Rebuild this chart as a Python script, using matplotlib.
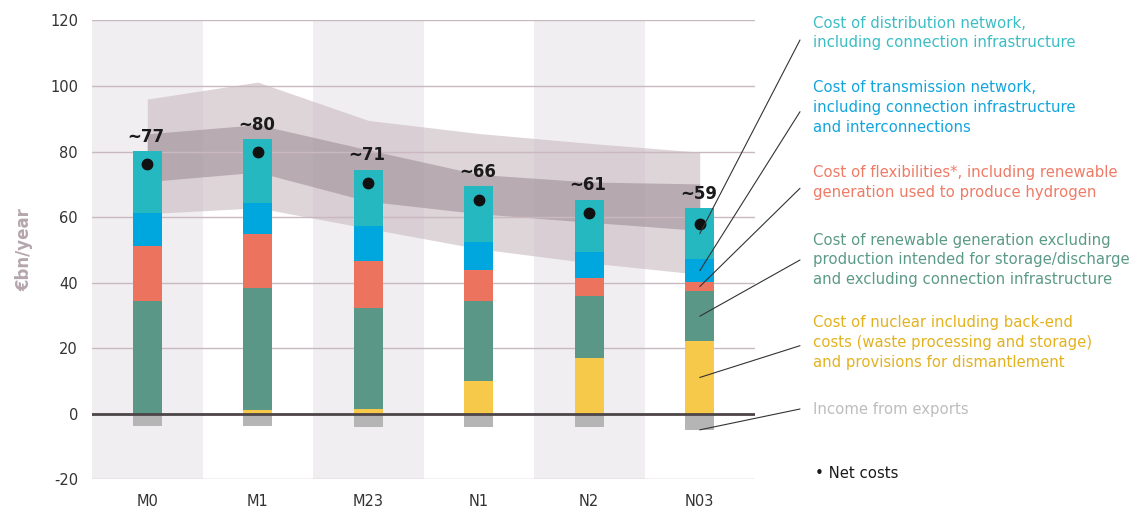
import matplotlib
matplotlib.use("Agg")
import matplotlib.pyplot as plt
import numpy as np

plt.rcParams['axes.unicode_minus'] = False

categories = ['M0', 'M1', 'M23', 'N1', 'N2', 'N03']
nuclear = [0.0, 1.2, 1.3, 9.9, 16.9, 22.0]
renewables = [34.5, 37.1, 31.0, 24.3, 19.0, 15.4]
flexibilities = [16.6, 16.5, 14.4, 9.7, 5.4, 2.7]
transmission = [10.1, 9.5, 10.4, 8.6, 7.9, 7.0]
distribution = [18.8, 19.4, 17.3, 16.9, 16.1, 15.6]
exports = [-3.7, -3.7, -4.2, -4.2, -4.2, -5.0]
net_costs = [76.2, 80.0, 70.5, 65.3, 61.3, 58.0]
net_labels = ['~77', '~80', '~71', '~66', '~61', '~59']
outer_hi = [96.0, 101.2, 89.5, 85.5, 82.5, 79.8]
outer_lo = [61.0, 62.8, 56.5, 50.3, 46.0, 42.5]
inner_hi = [85.4, 88.2, 80.5, 73.0, 70.7, 70.1]
inner_lo = [70.8, 73.7, 64.8, 61.0, 58.4, 55.9]
yticks = [-20, 0, 20, 40, 60, 80, 100, 120]

series_names = [
    "Cost of distribution network,\nincluding connection infrastructure",
    "Cost of transmission network,\nincluding connection infrastructure\nand interconnections",
    "Cost of flexibilities*, including renewable\ngeneration used to produce hydrogen",
    "Cost of renewable generation excluding\nproduction intended for storage/discharge\nand excluding connection infrastructure",
    "Cost of nuclear including back-end\ncosts (waste processing and storage)\nand provisions for dismantlement",
    "Income from exports",
]

c_dist = '#25b8c0'
c_trans = '#00a6de'
c_flex = '#ec745f'
c_ren = '#5a9787'
c_nuc = '#f6c94a'
c_exp = '#b5b5b5'
txt_colors = ['#3bbdc4', '#12a5dd', '#ee7b66', '#5c9a88', '#e3b21f', '#bdbdbd']

fig = plt.figure(figsize=(11.37, 5.11), dpi=100)
ax = fig.add_axes([92/1137, 32/511, (755-92)/1137, (479-20.5)/511])

x = np.arange(len(categories))
ax.set_xlim(-0.5, len(categories) - 0.5)
ax.set_ylim(-20, 120)

# alternating column shading
for i in x:
    if i % 2 == 0:
        ax.axvspan(i - 0.5, i + 0.5, color='#f0eef0', zorder=0, lw=0)

# ranges
ax.fill_between(x, outer_lo, outer_hi, color='#c8b9c1', alpha=0.6, lw=0, zorder=1)
ax.fill_between(x, inner_lo, inner_hi, color='#a08f97', alpha=0.6, lw=0, zorder=1.1)

# grid
for t in yticks:
    ax.axhline(t, color='#c9b8bf', lw=1, zorder=1.5)

w = 0.26
bottom = np.zeros(len(categories))
for vals, col in [(nuclear, c_nuc), (renewables, c_ren), (flexibilities, c_flex),
                  (transmission, c_trans), (distribution, c_dist)]:
    ax.bar(x, vals, w, bottom=bottom, color=col, zorder=3, lw=0)
    bottom = bottom + np.array(vals)
ax.bar(x, exports, w, color=c_exp, zorder=3, lw=0)

ax.axhline(0, color='#4d4548', lw=2, zorder=4)

ax.plot(x, net_costs, 'o', color='#111111', ms=7.5, zorder=5)
for xi, top, lab in zip(x, bottom, net_labels):
    ax.annotate(lab, (xi, top), xytext=(-1, 4), textcoords='offset points',
                ha='center', va='bottom', fontsize=12, fontweight='bold',
                color='#1a1a1a', zorder=6)

for s in ax.spines.values():
    s.set_visible(False)
ax.set_yticks(yticks)
ax.set_xticks(x)
ax.set_xticklabels(categories)
ax.tick_params(axis='both', length=0, labelsize=10.5, colors='#333333')
ax.tick_params(axis='y', pad=10)
ax.tick_params(axis='x', pad=11)
ax.set_ylabel('€bn/year', fontsize=12, fontweight='bold', color='#b5a6ad', labelpad=12)

# legend text and leader lines
text_y = [23, 88, 173, 240, 323, 409]
line_start_y = [40, 111.7, 188.3, 260, 345.7, 409]
segments_lo = [np.array(nuclear) + np.array(renewables) + np.array(flexibilities) + np.array(transmission),
               np.array(nuclear) + np.array(renewables) + np.array(flexibilities),
               np.array(nuclear) + np.array(renewables),
               np.array(nuclear),
               np.zeros(len(categories)),
               np.array(exports)]
segments_val = [distribution, transmission, flexibilities, renewables, nuclear, [0]*6]
last = len(categories) - 1
for name, col, ty, ly, lo, v in zip(series_names, txt_colors, text_y, line_start_y,
                                    segments_lo, segments_val):
    fig.text(813/1137, 1 - (ty - 7.5)/511, name, color=col, fontsize=10.7,
             ha='left', va='top', linespacing=1.4)
    target = lo[last] + v[last] / 2.0
    ax.annotate('', xy=(x[last], target), xycoords='data',
                xytext=(800/1137, 1 - ly/511), textcoords='figure fraction',
                arrowprops=dict(arrowstyle='-', lw=0.8, color='#333333',
                                shrinkA=0, shrinkB=0),
                annotation_clip=False, zorder=7)

fig.text(815/1137, 1 - 473/511, '• Net costs', color='#1a1a1a', fontsize=10.7,
         ha='left', va='center')

fig.savefig('out.png', dpi=100)
